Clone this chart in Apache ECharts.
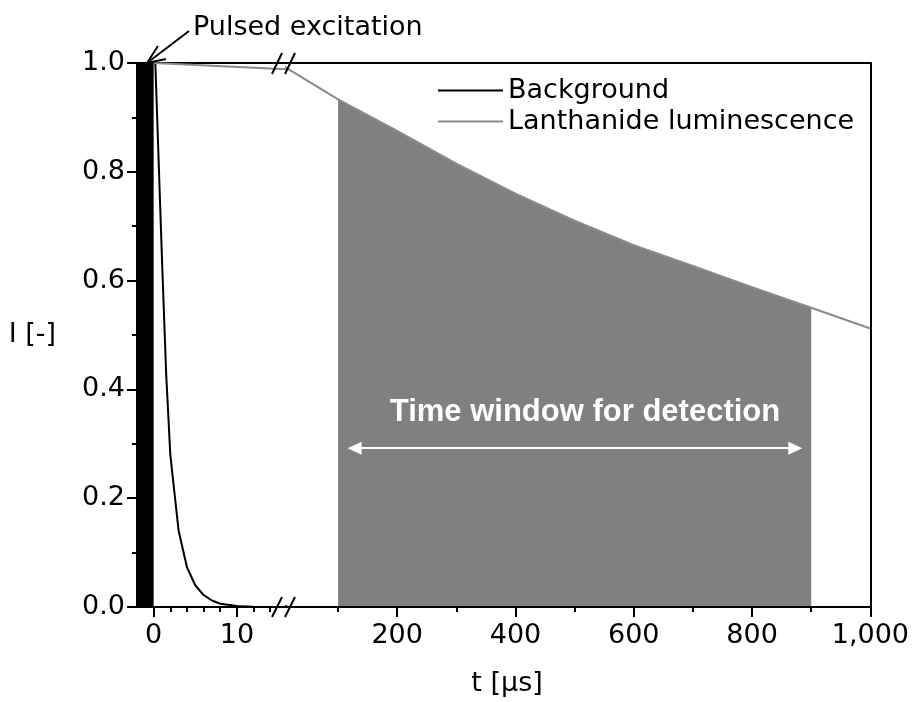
<!DOCTYPE html>
<html><head><meta charset="utf-8">
<script src="https://cdn.jsdelivr.net/npm/echarts@6/dist/echarts.min.js"></script>
<style>html,body{margin:0;padding:0;background:#fff}#c{width:912px;height:702px}</style>
</head><body><div id="c"></div>
<script>
// ---- data ----
const bgT = [0.2, 1, 1.5, 2, 3, 4, 5, 6, 7, 8, 10, 12, 16, 1000];
const bgI = [1.0, 0.64, 0.43, 0.28, 0.14, 0.073, 0.04, 0.022, 0.012, 0.006, 0.002, 0.0005, 0, 0];
const lanT = [0, 14, 100, 200, 300, 400, 500, 600, 700, 800, 900, 1000];
const lanI = [1.0, 0.99, 0.933, 0.875, 0.815, 0.76, 0.71, 0.665, 0.627, 0.588, 0.55, 0.512];
const pulseT = [-2, 0];
const windowT = [100, 900];
const arrowT = [128, 873];
const arrowI = 0.292;
const leftMinorTicks = [2, 4, 6, 8, 12, 14];
const leftMajorTicks = [0, 10];
const rightMinorTicks = [100, 300, 500, 700, 900];
const rightMajorTicks = [200, 400, 600, 800, 1000];
const seriesNames = ['Background', 'Lanthanide luminescence'];

const bgData = bgT.map((t, i) => [t, bgI[i]]);
const lanData = lanT.map((t, i) => [t, lanI[i]]);
const winData = lanData.filter(d => d[0] >= windowT[0] && d[0] <= windowT[1]);

const FONT = 'DejaVu Sans';
const FS = 27;
const black = '#000';
const grey = '#8a8a8a';
const lbl = {fontFamily: FONT, fontSize: FS, color: black};
const line2 = {color: black, width: 2};
const none = {show: false};

const chart = echarts.init(document.getElementById('c'), null, {renderer: 'canvas'});
const option = {
  animation: false,
  backgroundColor: '#fff',
  grid: [
    {left: 137, top: 63, width: 149, bottom: 95},
    {left: 286, top: 63, right: 39, bottom: 95}
  ],
  xAxis: [
    {gridIndex: 0, type: 'value', min: -2, max: 15.9, position: 'bottom', z: 10,
     axisLine: {show: true, onZero: false, lineStyle: line2},
     axisTick: {show: true, customValues: leftMinorTicks, length: 5, lineStyle: line2},
     axisLabel: none, splitLine: none},
    {gridIndex: 0, type: 'value', min: -2, max: 15.9, position: 'bottom', z: 10,
     axisLine: {show: false, onZero: false},
     axisTick: {show: true, customValues: leftMajorTicks, length: 10, lineStyle: line2},
     axisLabel: Object.assign({show: true, customValues: leftMajorTicks, margin: 15}, lbl),
     splitLine: none},
    {gridIndex: 1, type: 'value', min: 12, max: 1000, position: 'bottom', z: 10,
     axisLine: {show: true, onZero: false, lineStyle: line2},
     axisTick: {show: true, customValues: rightMinorTicks, length: 5, lineStyle: line2},
     axisLabel: none, splitLine: none},
    {gridIndex: 1, type: 'value', min: 12, max: 1000, position: 'bottom', z: 10,
     axisLine: {show: false, onZero: false},
     axisTick: {show: true, customValues: rightMajorTicks, length: 10, lineStyle: line2},
     axisLabel: Object.assign({show: true, customValues: rightMajorTicks, margin: 15,
       formatter: v => Number(v).toLocaleString('en-US')}, lbl),
     splitLine: none},
    {gridIndex: 0, type: 'value', min: -2, max: 15.9, position: 'top',
     axisLine: {show: true, onZero: false, lineStyle: line2}, axisTick: none, axisLabel: none, splitLine: none},
    {gridIndex: 1, type: 'value', min: 12, max: 1000, position: 'top',
     axisLine: {show: true, onZero: false, lineStyle: line2}, axisTick: none, axisLabel: none, splitLine: none}
  ],
  yAxis: [
    {gridIndex: 0, type: 'value', min: 0, max: 1, interval: 0.2, position: 'left', z: 10,
     name: 'I [-]', nameLocation: 'middle', nameRotate: 0, nameGap: 81,
     nameTextStyle: {fontFamily: FONT, fontSize: FS, color: black},
     axisLine: {show: true, onZero: false, lineStyle: line2},
     axisTick: {show: true, length: 10, lineStyle: line2},
     minorTick: {show: true, splitNumber: 2, length: 5, lineStyle: line2},
     axisLabel: Object.assign({margin: 12, formatter: v => v.toFixed(1)}, lbl),
     splitLine: none, minorSplitLine: none},
    {gridIndex: 1, type: 'value', min: 0, max: 1, position: 'right', z: 10,
     axisLine: {show: true, onZero: false, lineStyle: line2},
     axisTick: none, axisLabel: none, splitLine: none}
  ],
  legend: {
    data: seriesNames, orient: 'vertical', left: 433, top: 71, itemGap: 2,
    icon: 'rect', itemWidth: 65, itemHeight: 2,
    textStyle: {fontFamily: FONT, fontSize: FS, color: black, lineHeight: 29}
  },
  series: [
    {type: 'line', name: 'Window', xAxisIndex: 2, yAxisIndex: 1, data: winData, z: 1,
     symbol: 'none', lineStyle: {width: 0}, itemStyle: {color: '#808080'},
     areaStyle: {color: '#808080', opacity: 1},
     markLine: {silent: true, symbol: ['triangle', 'triangle'], symbolSize: [13, 14],
       lineStyle: {color: '#fff', width: 2, type: 'solid'}, label: none,
       data: [[{coord: [arrowT[0], arrowI]}, {coord: [arrowT[1], arrowI]}]]}},
    {type: 'line', name: seriesNames[0], xAxisIndex: 0, yAxisIndex: 0, data: bgData, z: 3,
     symbol: 'none', lineStyle: {color: black, width: 2}, itemStyle: {color: black},
     markArea: {silent: true, itemStyle: {color: black, opacity: 1},
       data: [[{xAxis: pulseT[0], yAxis: 0}, {xAxis: pulseT[1], yAxis: 1}]]}},
    {type: 'line', name: seriesNames[0], xAxisIndex: 2, yAxisIndex: 1, data: bgData, z: 3,
     symbol: 'none', lineStyle: {color: black, width: 2}, itemStyle: {color: black}},
    {type: 'line', name: seriesNames[1], xAxisIndex: 0, yAxisIndex: 0, data: lanData, z: 3,
     symbol: 'none', lineStyle: {color: grey, width: 2}, itemStyle: {color: grey}},
    {type: 'line', name: seriesNames[1], xAxisIndex: 2, yAxisIndex: 1, data: lanData, z: 3,
     symbol: 'none', lineStyle: {color: grey, width: 2}, itemStyle: {color: grey}}
  ],
  graphic: [
    {type: 'text', x: 193, y: 28, z: 20, style: {text: 'Pulsed excitation', font: FS + 'px "' + FONT + '"', fill: black, verticalAlign: 'middle'}},
    {type: 'polyline', z: 20, shape: {points: [[189, 31], [147, 63]]}, style: {stroke: black, lineWidth: 2, fill: null}},
    {type: 'polyline', z: 20, shape: {points: [[166, 59], [147, 63], [158, 46]]}, style: {stroke: black, lineWidth: 2, fill: null}},
    {type: 'text', x: 585, y: 412, z: 20, style: {text: 'Time window for detection', font: 'bold 31px "Liberation Sans"', fill: '#fff', align: 'center', verticalAlign: 'middle'}},
    {type: 'text', x: 507, y: 684, z: 20, style: {text: 't [µs]', font: FS + 'px "' + FONT + '"', fill: black, align: 'center', verticalAlign: 'middle'}},
    {type: 'line', z: 20, shape: {x1: 272, y1: 74, x2: 282, y2: 53}, style: {stroke: black, lineWidth: 2}},
    {type: 'line', z: 20, shape: {x1: 285, y1: 74, x2: 295, y2: 53}, style: {stroke: black, lineWidth: 2}},
    {type: 'line', z: 20, shape: {x1: 272, y1: 617, x2: 282, y2: 597}, style: {stroke: black, lineWidth: 2}},
    {type: 'line', z: 20, shape: {x1: 285, y1: 617, x2: 295, y2: 597}, style: {stroke: black, lineWidth: 2}}
  ]
};
chart.setOption(option);
</script>
</body></html>
